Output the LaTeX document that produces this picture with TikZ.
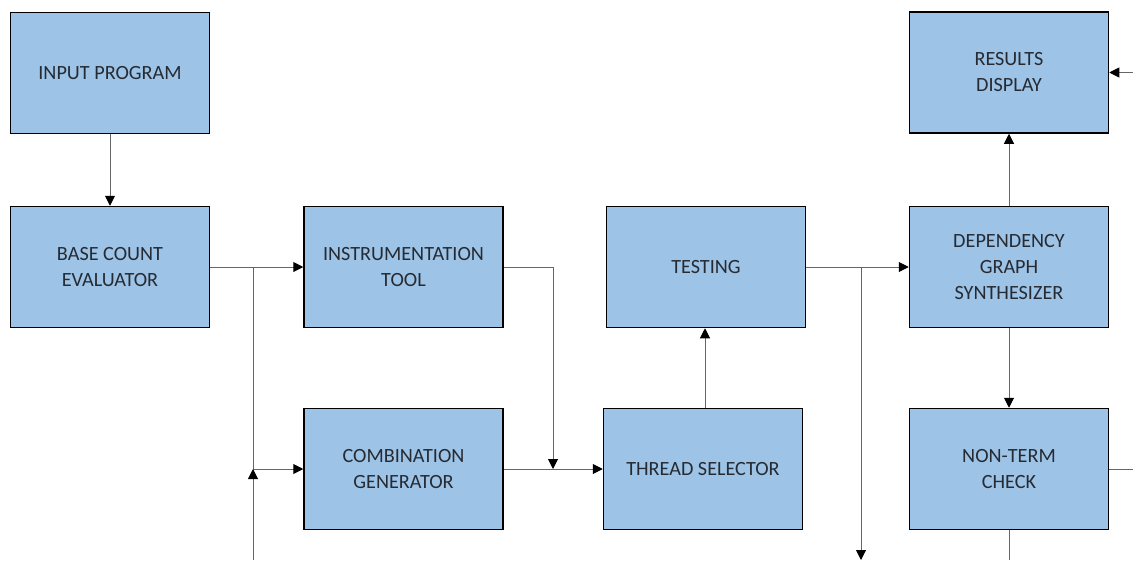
\documentclass[tikz,border=0pt]{standalone}
\usepackage{fontspec}
\setmainfont{Carlito}
\usetikzlibrary{arrows.meta}
\definecolor{boxfill}{HTML}{9DC3E6}
\definecolor{boxtext}{HTML}{262B33}
\definecolor{wire}{HTML}{666666}
\tikzset{
  blk/.style={draw=black, line width=1.5pt, fill=boxfill, minimum width=199pt,
    minimum height=121pt, align=center, text=boxtext, inner sep=0pt,
    font=\fontsize{20.2}{26}\selectfont},
  wire/.style={draw=wire, line width=1pt},
  flow/.style={wire, -{Triangle[length=10pt,width=10pt,color=black]}},
}
\begin{document}
\begin{tikzpicture}[x=1pt, y=-1pt]
  \useasboundingbox (0,0) rectangle (1133,560);

  % processing blocks
  \node[blk] (ip) at (110,73)    {INPUT PROGRAM};
  \node[blk] (bc) at (110,267)   {BASE COUNT\\EVALUATOR};
  \node[blk] (it) at (403.5,267) {INSTRUMENTATION\\TOOL};
  \node[blk] (cg) at (403.5,469) {COMBINATION\\GENERATOR};
  \node[blk] (te) at (706,267)   {TESTING};
  \node[blk] (th) at (703,469)   {THREAD SELECTOR};
  \node[blk] (rd) at (1009,72.5) {RESULTS\\DISPLAY};
  \node[blk] (dg) at (1009,267)  {DEPENDENCY\\GRAPH\\SYNTHESIZER};
  \node[blk] (nt) at (1009,469)  {NON-TERM\\CHECK};

  % branch points and open ends
  \coordinate (j1) at (253,267);
  \coordinate (j2) at (253,469);
  \coordinate (j3) at (553,469);
  \coordinate (j4) at (861,267);
  \coordinate (k1) at (705,408);
  \coordinate (b1) at (253,560);
  \coordinate (b2) at (861,560);
  \coordinate (b3) at (1009,560);
  \coordinate (r1) at (1133,72.5);
  \coordinate (r2) at (1133,469);

  % connectors
  \draw[flow] (ip) -- (bc);
  \draw[flow] (bc.east) -- (it.west);
  \draw[wire] (j1) -- (j2);
  \draw[flow] (j2) -- (cg.west);
  \draw[flow] (b1) -- (j2);
  \draw[flow] (it.east) -| (j3);
  \draw[flow] (cg.east) -- (th.west);
  \draw[flow] (k1) -- (k1 |- te.south);
  \draw[flow] (te.east) -- (dg.west);
  \draw[flow] (j4) -- (b2);
  \draw[flow] (dg) -- (rd);
  \draw[flow] (dg) -- (nt);
  \draw[flow] (r1) -- (rd.east);
  \draw[wire] (nt.east) -- (r2);
  \draw[wire] (nt.south) -- (b3);
\end{tikzpicture}
\end{document}
